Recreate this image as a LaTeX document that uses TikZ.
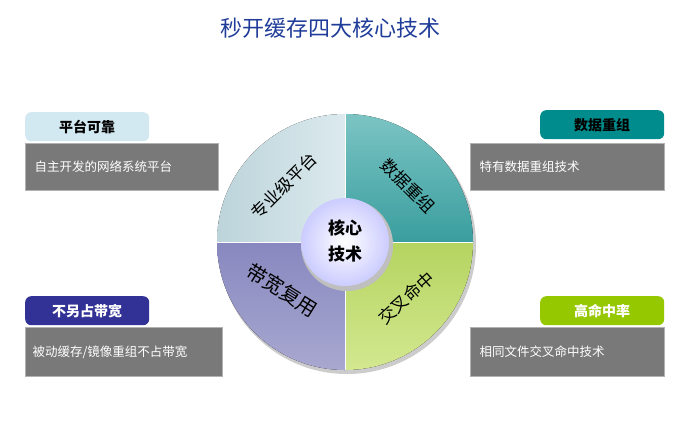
\documentclass[tikz,border=0pt]{standalone}
\usepackage{fontspec}
\setmainfont{Noto Sans CJK SC}
\definecolor{qa1}{HTML}{BCD4DA}\definecolor{qa2}{HTML}{DCEAEE}
\definecolor{qb1}{HTML}{7CC4C4}\definecolor{qb2}{HTML}{3A9E9E}
\definecolor{qc1}{HTML}{D4E890}\definecolor{qc2}{HTML}{B4D460}
\definecolor{qd1}{HTML}{8888C0}\definecolor{qd2}{HTML}{A8A8D0}
\begin{document}
\begin{tikzpicture}[x=1pt,y=-1pt,
  tab/.style={minimum width=124pt,minimum height=29pt,inner sep=0pt,font=\fontsize{14}{16}\selectfont\bfseries,rounded corners=6pt},
  gbox/.style={fill=gray!95!black,draw=gray!60,line width=0.6pt,inner sep=0pt,anchor=north west,text=white,font=\fontsize{12.5}{14}\selectfont},
  qtext/.style={font=\fontsize{17}{19}\selectfont}]
\useasboundingbox (0,0) rectangle (680,437);
\node (title) at (330,28) {\textcolor[HTML]{1F3C99}{\fontsize{22}{24}\selectfont 秒开缓存四大核心技术}};
% circle
\coordinate (c) at (345,242);
\fill[gray!40] (347,245) circle (129);
\fill[left color=qa1, right color=qa2] (c) -- (217,242) arc (180:270:128) -- cycle;
\fill[top color=qb1, bottom color=qb2] (c) -- (345,114) arc (270:360:128) -- cycle;
\fill[top color=qc2, bottom color=qc1] (c) -- (473,242) arc (0:90:128) -- cycle;
\fill[top color=qd1, bottom color=qd2] (c) -- (345,370) arc (90:180:128) -- cycle;
\draw[white,line width=1pt] (217,242) -- (473,242) (345,114) -- (345,370);
\fill[gray!50] (347,245) circle (46);
\shade[inner color=white, outer color=blue!20!white] (c) circle (44);
\node (core) at (345,242) {\fontsize{17}{26}\selectfont\bfseries\begin{tabular}{c}核心\\技术\end{tabular}};
\node[qtext,rotate=45] (q1) at (284,186) {专业级平台};
\node[qtext,rotate=-45] (q2) at (408,186) {数据重组};
\node[qtext,rotate=42] (q3) at (406,298) {交叉命中};
\node[qtext,rotate=-32,font=\fontsize{20}{22}\selectfont] (q4) at (282,290) {带宽复用};
% boxes
\node[tab,fill=cyan!15!white!90!gray,anchor=north west] (t1) at (25,112) {平台可靠};
\node[gbox,minimum width=193pt,minimum height=47pt] (b1) at (25,143) {};
\node[anchor=west,text=white,font=\fontsize{12.5}{14}\selectfont] at (31,167) {自主开发的网络系统平台};
\node[tab,fill=teal!90!cyan,anchor=north west] (t2) at (540,110) {数据重组};
\node[gbox,minimum width=194pt,minimum height=47pt] (b2) at (470,143) {};
\node[anchor=west,text=white,font=\fontsize{12.5}{14}\selectfont] at (476,167) {特有数据重组技术};
\node[tab,fill={rgb,255:red,50;green,50;blue,150},text=white,anchor=north west] (t3) at (25,296) {不另占带宽};
\node[gbox,minimum width=197pt,minimum height=49pt] (b3) at (25,327) {};
\node[anchor=west,text=white,font=\fontsize{12.5}{14}\selectfont] at (29,352) {被动缓存/镜像重组不占带宽};
\node[tab,fill={rgb,255:red,150;green,200;blue,0},text=white,anchor=north west] (t4) at (540,296) {高命中率};
\node[gbox,minimum width=194pt,minimum height=49pt] (b4) at (470,327) {};
\node[anchor=west,text=white,font=\fontsize{12.5}{14}\selectfont] at (476,352) {相同文件交叉命中技术};
\end{tikzpicture}
\end{document}
